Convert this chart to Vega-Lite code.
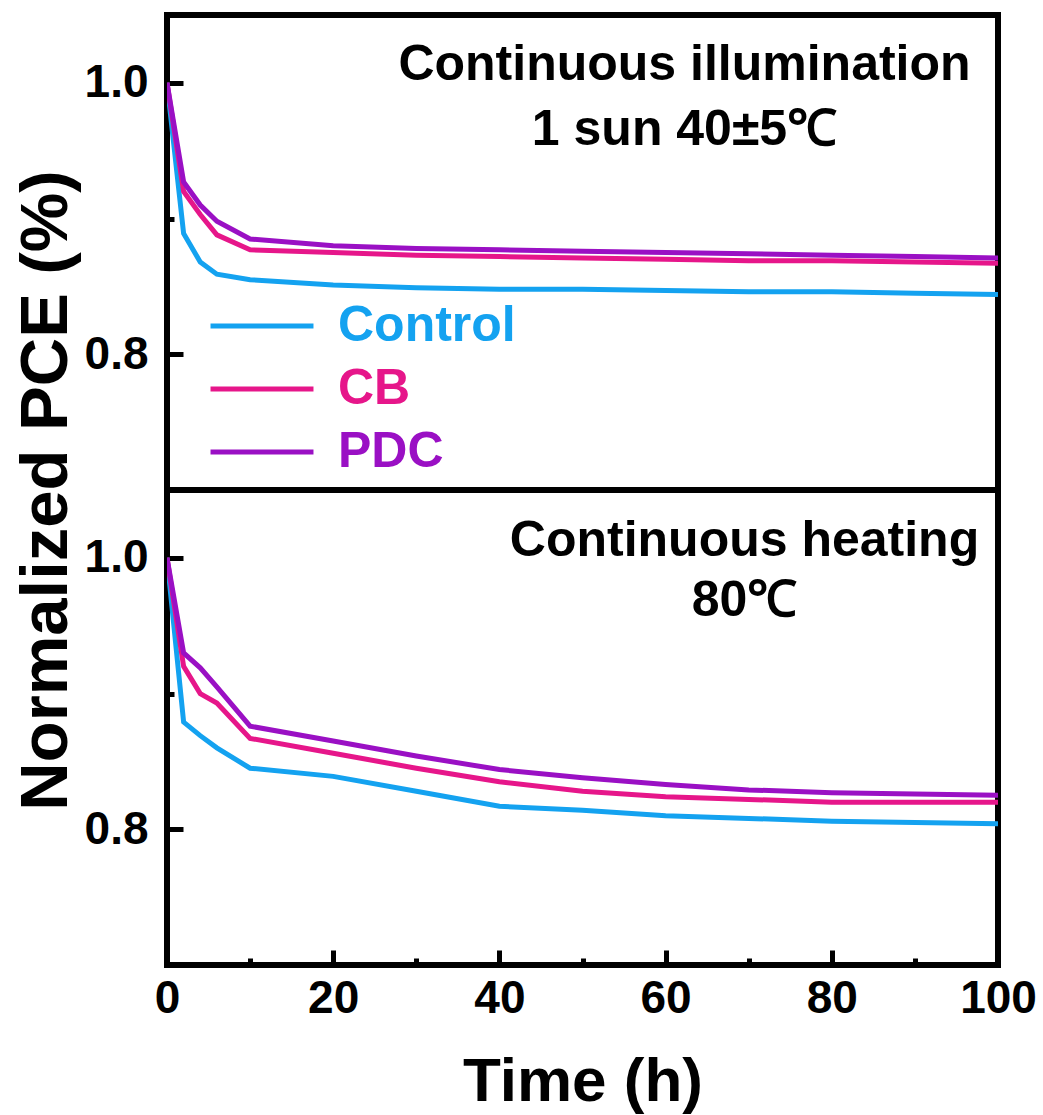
{
  "$schema": "https://vega.github.io/schema/vega-lite/v6.json",
  "background": "white",
  "padding": {"left": 9, "top": 12, "right": 0, "bottom": 0},
  "autosize": {"type": "pad"},
  "bounds": "flush",
  "spacing": 0,
  "config": {
    "font": "Liberation Sans",
    "view": {"stroke": "black", "strokeWidth": 6},
    "axis": {
      "domain": false,
      "ticks": false,
      "grid": true,
      "gridColor": "black",
      "gridOpacity": 1,
      "gridWidth": 5,
      "labelFont": "Liberation Sans",
      "labelFontWeight": "bold",
      "labelFontSize": 46,
      "labelColor": "black",
      "titleFont": "Liberation Sans",
      "titleFontWeight": "bold",
      "titleColor": "black"
    },
    "title": {"font": "Liberation Sans", "fontWeight": "bold", "fontSize": 50, "color": "black"}
  },
  "datasets": {
    "pce": [
      {"panel": "illumination", "sample": "Control", "time": 0, "pce": 1.0},
      {"panel": "illumination", "sample": "Control", "time": 2, "pce": 0.889},
      {"panel": "illumination", "sample": "Control", "time": 4, "pce": 0.868},
      {"panel": "illumination", "sample": "Control", "time": 6, "pce": 0.859},
      {"panel": "illumination", "sample": "Control", "time": 10, "pce": 0.855},
      {"panel": "illumination", "sample": "Control", "time": 20, "pce": 0.851},
      {"panel": "illumination", "sample": "Control", "time": 30, "pce": 0.849},
      {"panel": "illumination", "sample": "Control", "time": 40, "pce": 0.848},
      {"panel": "illumination", "sample": "Control", "time": 50, "pce": 0.848},
      {"panel": "illumination", "sample": "Control", "time": 60, "pce": 0.847},
      {"panel": "illumination", "sample": "Control", "time": 70, "pce": 0.846},
      {"panel": "illumination", "sample": "Control", "time": 80, "pce": 0.846},
      {"panel": "illumination", "sample": "Control", "time": 90, "pce": 0.845},
      {"panel": "illumination", "sample": "Control", "time": 100, "pce": 0.844},
      {"panel": "illumination", "sample": "CB", "time": 0, "pce": 1.0},
      {"panel": "illumination", "sample": "CB", "time": 2, "pce": 0.92},
      {"panel": "illumination", "sample": "CB", "time": 4, "pce": 0.903},
      {"panel": "illumination", "sample": "CB", "time": 6, "pce": 0.888},
      {"panel": "illumination", "sample": "CB", "time": 10, "pce": 0.877},
      {"panel": "illumination", "sample": "CB", "time": 20, "pce": 0.875},
      {"panel": "illumination", "sample": "CB", "time": 30, "pce": 0.873},
      {"panel": "illumination", "sample": "CB", "time": 40, "pce": 0.872},
      {"panel": "illumination", "sample": "CB", "time": 50, "pce": 0.871},
      {"panel": "illumination", "sample": "CB", "time": 60, "pce": 0.87},
      {"panel": "illumination", "sample": "CB", "time": 70, "pce": 0.869},
      {"panel": "illumination", "sample": "CB", "time": 80, "pce": 0.869},
      {"panel": "illumination", "sample": "CB", "time": 90, "pce": 0.868},
      {"panel": "illumination", "sample": "CB", "time": 100, "pce": 0.867},
      {"panel": "illumination", "sample": "PDC", "time": 0, "pce": 1.0},
      {"panel": "illumination", "sample": "PDC", "time": 2, "pce": 0.927},
      {"panel": "illumination", "sample": "PDC", "time": 4, "pce": 0.91},
      {"panel": "illumination", "sample": "PDC", "time": 6, "pce": 0.898},
      {"panel": "illumination", "sample": "PDC", "time": 10, "pce": 0.885},
      {"panel": "illumination", "sample": "PDC", "time": 20, "pce": 0.88},
      {"panel": "illumination", "sample": "PDC", "time": 30, "pce": 0.878},
      {"panel": "illumination", "sample": "PDC", "time": 40, "pce": 0.877},
      {"panel": "illumination", "sample": "PDC", "time": 50, "pce": 0.876},
      {"panel": "illumination", "sample": "PDC", "time": 60, "pce": 0.875},
      {"panel": "illumination", "sample": "PDC", "time": 70, "pce": 0.874},
      {"panel": "illumination", "sample": "PDC", "time": 80, "pce": 0.873},
      {"panel": "illumination", "sample": "PDC", "time": 90, "pce": 0.872},
      {"panel": "illumination", "sample": "PDC", "time": 100, "pce": 0.871},
      {"panel": "heating", "sample": "Control", "time": 0, "pce": 1.0},
      {"panel": "heating", "sample": "Control", "time": 2, "pce": 0.879},
      {"panel": "heating", "sample": "Control", "time": 4, "pce": 0.869},
      {"panel": "heating", "sample": "Control", "time": 6, "pce": 0.86},
      {"panel": "heating", "sample": "Control", "time": 10, "pce": 0.845},
      {"panel": "heating", "sample": "Control", "time": 20, "pce": 0.839},
      {"panel": "heating", "sample": "Control", "time": 30, "pce": 0.828},
      {"panel": "heating", "sample": "Control", "time": 40, "pce": 0.817},
      {"panel": "heating", "sample": "Control", "time": 50, "pce": 0.814},
      {"panel": "heating", "sample": "Control", "time": 60, "pce": 0.81},
      {"panel": "heating", "sample": "Control", "time": 70, "pce": 0.808},
      {"panel": "heating", "sample": "Control", "time": 80, "pce": 0.806},
      {"panel": "heating", "sample": "Control", "time": 90, "pce": 0.805},
      {"panel": "heating", "sample": "Control", "time": 100, "pce": 0.804},
      {"panel": "heating", "sample": "CB", "time": 0, "pce": 1.0},
      {"panel": "heating", "sample": "CB", "time": 2, "pce": 0.92},
      {"panel": "heating", "sample": "CB", "time": 4, "pce": 0.9},
      {"panel": "heating", "sample": "CB", "time": 6, "pce": 0.893},
      {"panel": "heating", "sample": "CB", "time": 10, "pce": 0.867},
      {"panel": "heating", "sample": "CB", "time": 20, "pce": 0.856},
      {"panel": "heating", "sample": "CB", "time": 30, "pce": 0.845},
      {"panel": "heating", "sample": "CB", "time": 40, "pce": 0.835},
      {"panel": "heating", "sample": "CB", "time": 50, "pce": 0.828},
      {"panel": "heating", "sample": "CB", "time": 60, "pce": 0.824},
      {"panel": "heating", "sample": "CB", "time": 70, "pce": 0.822},
      {"panel": "heating", "sample": "CB", "time": 80, "pce": 0.82},
      {"panel": "heating", "sample": "CB", "time": 90, "pce": 0.82},
      {"panel": "heating", "sample": "CB", "time": 100, "pce": 0.82},
      {"panel": "heating", "sample": "PDC", "time": 0, "pce": 1.0},
      {"panel": "heating", "sample": "PDC", "time": 2, "pce": 0.93},
      {"panel": "heating", "sample": "PDC", "time": 4, "pce": 0.919},
      {"panel": "heating", "sample": "PDC", "time": 6, "pce": 0.905},
      {"panel": "heating", "sample": "PDC", "time": 10, "pce": 0.876},
      {"panel": "heating", "sample": "PDC", "time": 20, "pce": 0.865},
      {"panel": "heating", "sample": "PDC", "time": 30, "pce": 0.854},
      {"panel": "heating", "sample": "PDC", "time": 40, "pce": 0.844},
      {"panel": "heating", "sample": "PDC", "time": 50, "pce": 0.838},
      {"panel": "heating", "sample": "PDC", "time": 60, "pce": 0.833},
      {"panel": "heating", "sample": "PDC", "time": 70, "pce": 0.829},
      {"panel": "heating", "sample": "PDC", "time": 80, "pce": 0.827},
      {"panel": "heating", "sample": "PDC", "time": 90, "pce": 0.826},
      {"panel": "heating", "sample": "PDC", "time": 100, "pce": 0.825}
    ]
  },
  "resolve": {"legend": {"color": "independent"}},
  "vconcat": [
    {
      "width": 831,
      "height": 475,
      "title": {
        "text": ["Continuous illumination", "1 sun 40±5℃"],
        "anchor": "middle",
        "frame": "group",
        "align": "center",
        "baseline": "alphabetic",
        "lineHeight": 65,
        "dx": 102,
        "offset": -180
      },
      "data": {"name": "pce"},
      "transform": [{"filter": "datum.panel === 'illumination'"}],
      "mark": {"type": "line", "strokeWidth": 5, "clip": true},
      "encoding": {
        "x": {"field": "time", "type": "quantitative", "scale": {"domain": [0, 100], "nice": false}, "axis": null},
        "y": {
          "field": "pce",
          "type": "quantitative",
          "scale": {"domain": [0.7, 1.05], "nice": false, "zero": false},
          "axis": {
            "values": [0.8, 0.9, 1.0],
            "labelExpr": "abs(datum.value - 0.9) < 0.001 ? '' : format(datum.value, '.1f')",
            "labelPadding": 19,
            "gridDash": {"condition": {"test": "abs(datum.value - 0.9) < 0.001", "value": [7, 3000]}, "value": [16, 3000]},
            "title": "Normalized PCE (%)",
            "titleFontSize": 67,
            "titleAngle": -90,
            "titleAlign": "center",
            "titleBaseline": "middle",
            "titleX": -121,
            "titleY": 475
          }
        },
        "color": {
          "field": "sample",
          "type": "nominal",
          "scale": {"domain": ["Control", "CB", "PDC"], "range": ["#14a2f0", "#e6168a", "#9a10c4"]},
          "legend": {
            "orient": "none",
            "legendX": 70,
            "legendY": 286,
            "title": null,
            "symbolType": "M-5,0H5",
            "symbolSize": 424,
            "symbolStrokeWidth": 5,
            "labelFont": "Liberation Sans",
            "labelFontWeight": "bold",
            "labelFontSize": 50,
            "labelOffset": 51,
            "labelLimit": 0,
            "rowPadding": 13,
            "encode": {
              "labels": {
                "update": {
                  "fill": {"signal": "datum.value === 'Control' ? '#14a2f0' : datum.value === 'CB' ? '#e6168a' : '#9a10c4'"}
                }
              }
            }
          }
        }
      }
    },
    {
      "width": 831,
      "height": 475,
      "title": {
        "text": ["Continuous heating", "80℃"],
        "anchor": "middle",
        "frame": "group",
        "align": "center",
        "baseline": "alphabetic",
        "lineHeight": 60,
        "dx": 162,
        "offset": -176
      },
      "data": {"name": "pce"},
      "transform": [{"filter": "datum.panel === 'heating'"}],
      "mark": {"type": "line", "strokeWidth": 5, "clip": true},
      "encoding": {
        "x": {
          "field": "time",
          "type": "quantitative",
          "scale": {"domain": [0, 100], "nice": false},
          "axis": {
            "values": [0, 10, 20, 30, 40, 50, 60, 70, 80, 90, 100],
            "labelExpr": "datum.value % 20 === 0 ? format(datum.value, 'd') : ''",
            "labelPadding": 11,
            "labelFlush": false,
            "gridDash": {"condition": {"test": "datum.value % 20 !== 0", "value": [0, 468, 7, 3000]}, "value": [0, 460, 15, 3000]},
            "title": "Time (h)",
            "titleFontSize": 62,
            "titlePadding": 30
          }
        },
        "y": {
          "field": "pce",
          "type": "quantitative",
          "scale": {"domain": [0.7, 1.05], "nice": false, "zero": false},
          "axis": {
            "values": [0.8, 0.9, 1.0],
            "labelExpr": "abs(datum.value - 0.9) < 0.001 ? '' : format(datum.value, '.1f')",
            "labelPadding": 19,
            "gridDash": {"condition": {"test": "abs(datum.value - 0.9) < 0.001", "value": [7, 3000]}, "value": [16, 3000]},
            "title": null
          }
        },
        "color": {
          "field": "sample",
          "type": "nominal",
          "scale": {"domain": ["Control", "CB", "PDC"], "range": ["#14a2f0", "#e6168a", "#9a10c4"]},
          "legend": null
        }
      }
    }
  ]
}
